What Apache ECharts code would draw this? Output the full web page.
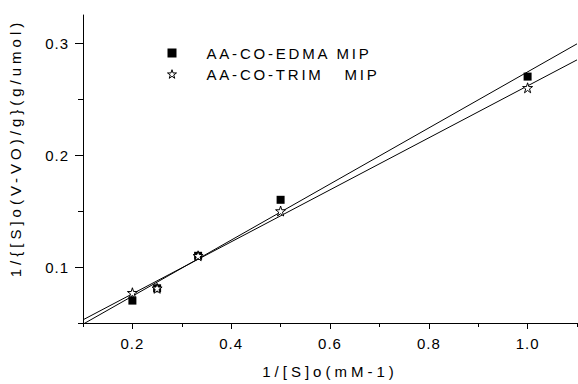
<!DOCTYPE html>
<html><head><meta charset="utf-8">
<script src="https://cdn.jsdelivr.net/npm/echarts@6/dist/echarts.min.js"></script>
<style>
html,body{margin:0;padding:0;background:#fff;}
#c{width:578px;height:384px;}
#c text{white-space:pre;}
</style></head><body>
<div id="c"></div>
<script>
// ---- data ----
const seriesNames = ['AA-CO-EDMA MIP', 'AA-CO-TRIM   MIP'];
const xValues = [0.2, 0.25, 0.333, 0.5, 1.0];
const edmaValues = [0.070, 0.081, 0.110, 0.160, 0.270];
const trimValues = [0.077, 0.081, 0.110, 0.150, 0.260];
const xMajorTicks = [0.2, 0.4, 0.6, 0.8, 1.0];
const xMinorTicks = [0.1, 0.3, 0.5, 0.7, 0.9, 1.1];
const yMajorTicks = [0.1, 0.2, 0.3];
const yMinorTicks = [0.05, 0.15, 0.25];
const xRange = [0.1, 1.1];
const yRange = [0.05, 0.325];
const xTitle = '1/[S]o(mM-1)';
const yTitle = '1/{[S]o(V-VO)/g}(g/umol)';

function fit(xs, ys) {
  const n = xs.length;
  const mx = xs.reduce((a, b) => a + b, 0) / n;
  const my = ys.reduce((a, b) => a + b, 0) / n;
  let sxy = 0, sxx = 0;
  for (let i = 0; i < n; i++) { sxy += (xs[i] - mx) * (ys[i] - my); sxx += (xs[i] - mx) ** 2; }
  const b = sxy / sxx, a = my - b * mx;
  return xRange.map(x => [x, a + b * x]);
}
const pairs = ys => xValues.map((x, i) => [x, ys[i]]);

const FONT = 'Liberation Sans';
const starPath = 'path://M50,2 L61,36 L97,36 L68,57 L79,92 L50,71 L21,92 L32,57 L3,36 L39,36 Z';
const fmt = v => v.toFixed(1);
const starStyle = {color: '#fff', borderColor: '#000', borderWidth: 1, opacity: 1};

const chart = echarts.init(document.getElementById('c'), null, {renderer: 'svg'});
chart.setOption({
  animation: false,
  backgroundColor: '#fff',
  grid: {left: 82, right: 1, top: 15, bottom: 58},
  legend: {
    orient: 'vertical', left: 162, top: 40, itemWidth: 9, itemHeight: 9, itemGap: 5,
    data: [
      {name: seriesNames[0], icon: 'rect', itemStyle: {color: '#000'}},
      {name: seriesNames[1], icon: starPath, itemStyle: starStyle}
    ],
    textStyle: {fontFamily: FONT, fontSize: 15, color: '#000', padding: [0, 0, 0, 25], lineHeight: 16},
    selectedMode: false
  },
  xAxis: [{
    type: 'value', min: xRange[0], max: xRange[1], position: 'bottom',
    name: xTitle, nameLocation: 'middle', nameGap: 41,
    nameTextStyle: {fontFamily: FONT, fontSize: 15, color: '#000'},
    axisLine: {show: true, lineStyle: {color: '#000', width: 1}},
    axisTick: {show: true, inside: false, length: 6, customValues: xMajorTicks, lineStyle: {color: '#000'}},
    axisLabel: {customValues: xMajorTicks, formatter: fmt, fontFamily: FONT, fontSize: 15, color: '#000', margin: 13},
    splitLine: {show: false}
  }, {
    type: 'value', min: xRange[0], max: xRange[1], position: 'bottom',
    axisLine: {show: false},
    axisTick: {show: true, inside: false, length: 4, customValues: xMinorTicks, lineStyle: {color: '#000'}},
    axisLabel: {show: false},
    splitLine: {show: false}
  }],
  yAxis: [{
    type: 'value', min: yRange[0], max: yRange[1], position: 'left',
    name: yTitle, nameLocation: 'middle', nameGap: 60, nameRotate: 90,
    nameTextStyle: {fontFamily: FONT, fontSize: 15, color: '#000', padding: [0, 0, 0, 42]},
    axisLine: {show: true, lineStyle: {color: '#000', width: 1}},
    axisTick: {show: true, inside: false, length: 8, customValues: yMajorTicks, lineStyle: {color: '#000'}},
    axisLabel: {customValues: yMajorTicks, formatter: fmt, fontFamily: FONT, fontSize: 15, color: '#000', margin: 14},
    splitLine: {show: false}
  }, {
    type: 'value', min: yRange[0], max: yRange[1], position: 'left',
    axisLine: {show: false},
    axisTick: {show: true, inside: false, length: 5, customValues: yMinorTicks, lineStyle: {color: '#000'}},
    axisLabel: {show: false},
    splitLine: {show: false}
  }],
  series: [
    {type: 'line', data: fit(xValues, edmaValues), showSymbol: false, symbol: 'none', silent: true,
     lineStyle: {color: '#000', width: 1}, z: 1},
    {type: 'line', data: fit(xValues, trimValues), showSymbol: false, symbol: 'none', silent: true,
     lineStyle: {color: '#000', width: 1}, z: 1},
    {name: seriesNames[0], type: 'scatter', data: pairs(edmaValues), symbol: 'rect', symbolSize: 8,
     itemStyle: {color: '#000', opacity: 1}, z: 3},
    {name: seriesNames[1], type: 'scatter', data: pairs(trimValues), symbol: starPath, symbolSize: 10,
     itemStyle: starStyle, z: 4}
  ]
});

function spacing() {
  document.querySelectorAll('#c text').forEach(t => {
    const s = t.textContent;
    if (/^\d\.\d$/.test(s)) t.style.letterSpacing = '1px';
    else if (s.indexOf('AA-') === 0) t.style.letterSpacing = '2.8px';
    else t.style.letterSpacing = '4px';
  });
}
spacing();
chart.on('finished', spacing);
</script>
</body></html>
